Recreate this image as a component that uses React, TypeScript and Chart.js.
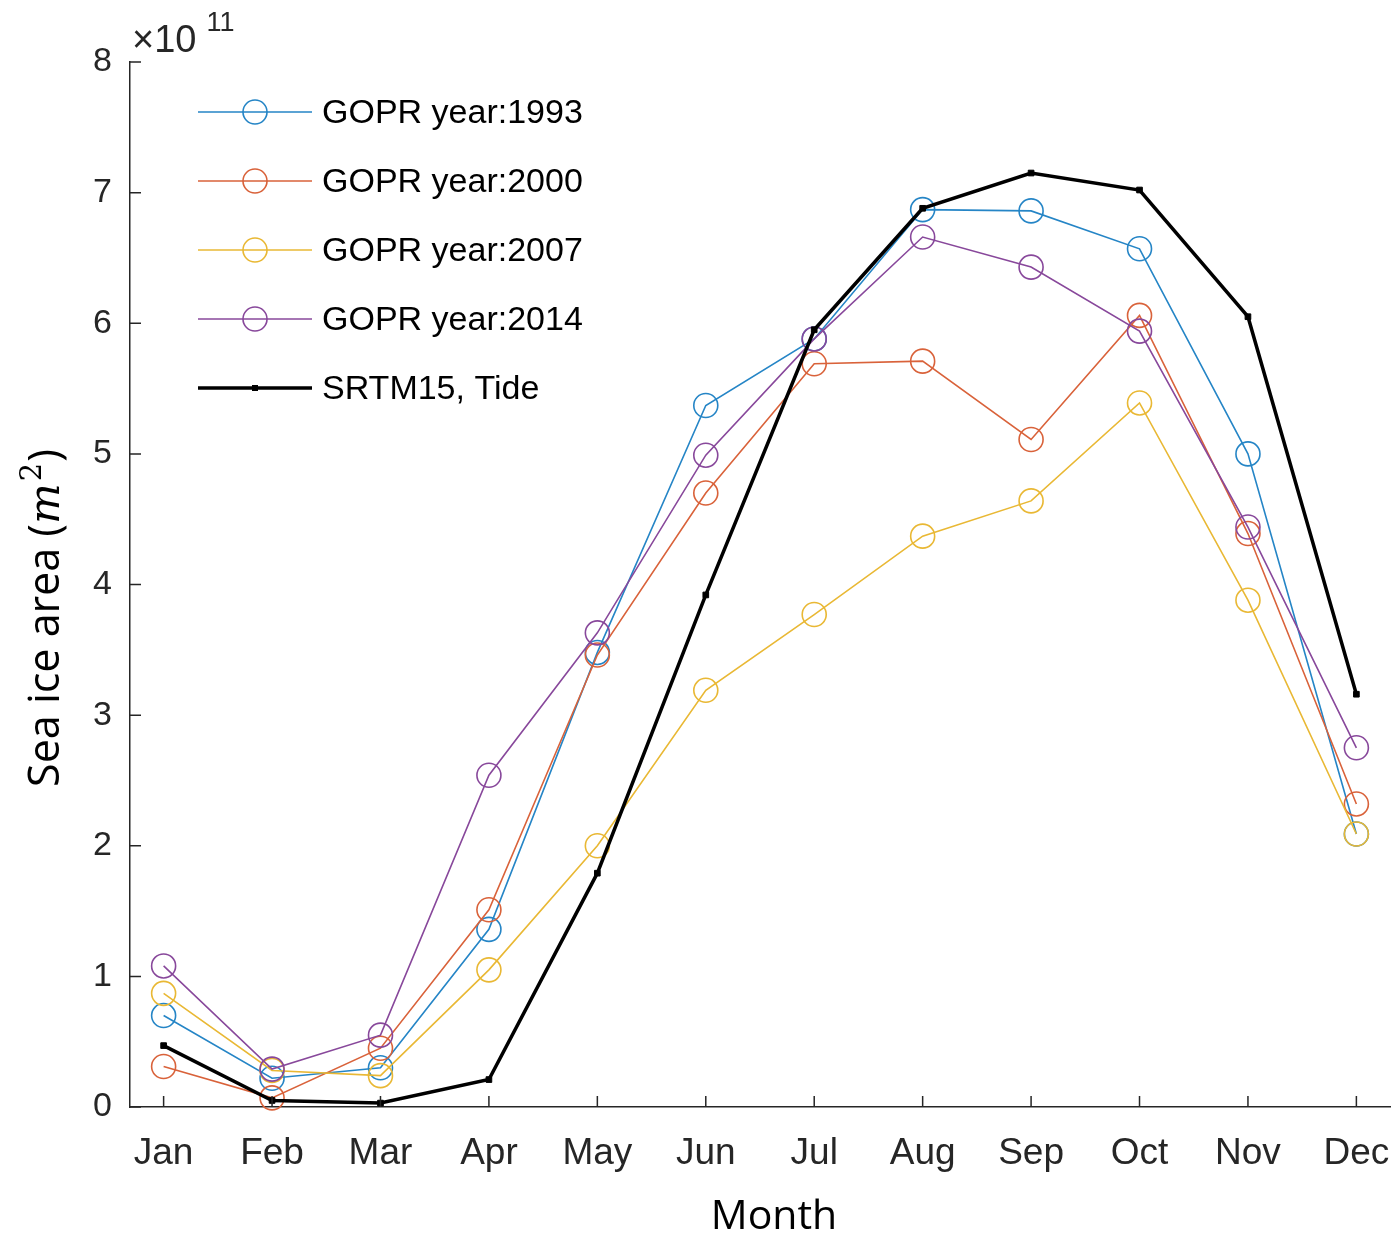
import React, { useEffect, useRef } from "react";
import { Chart, registerables } from "chart.js";

Chart.register(...registerables);

const months = ["Jan", "Feb", "Mar", "Apr", "May", "Jun", "Jul", "Aug", "Sep", "Oct", "Nov", "Dec"];
const yTicks = [0, 1, 2, 3, 4, 5, 6, 7, 8];

const gopr1993 = [0.70, 0.22, 0.30, 1.36, 3.48, 5.37, 5.88, 6.87, 6.86, 6.57, 5.00, 2.09];
const gopr2000 = [0.31, 0.07, 0.45, 1.51, 3.46, 4.70, 5.69, 5.71, 5.11, 6.06, 4.39, 2.32];
const gopr2007 = [0.87, 0.28, 0.24, 1.05, 2.00, 3.19, 3.77, 4.37, 4.64, 5.39, 3.88, 2.09];
const gopr2014 = [1.08, 0.29, 0.55, 2.54, 3.63, 4.99, 5.88, 6.66, 6.43, 5.94, 4.44, 2.75];
const srtm15 = [0.47, 0.05, 0.03, 0.21, 1.79, 3.92, 5.95, 6.88, 7.15, 7.02, 6.05, 3.16];

const seriesNames = ["GOPR year:1993", "GOPR year:2000", "GOPR year:2007", "GOPR year:2014", "SRTM15, Tide"];
const seriesColors = ["#2585c6", "#d9623a", "#e9b834", "#88489b", "#000000"];

const AXIS = "#262626";
const SANS = "'Liberation Sans', Arial, sans-serif";
const TITLE = "'Open Sans', sans-serif";

const toPts = (arr: number[]) => arr.map((v, i) => ({ x: i + 1, y: v }));

const decorPlugin = {
  id: "decor",
  afterDraw(chart: any) {
    const ctx = chart.ctx as CanvasRenderingContext2D;
    const area = chart.chartArea;
    const xs = chart.scales.x;
    const ys = chart.scales.y;
    ctx.save();
    // inward ticks
    ctx.strokeStyle = AXIS;
    ctx.lineWidth = 1.5;
    ctx.beginPath();
    months.forEach((_, i) => {
      const px = xs.getPixelForValue(i + 1);
      ctx.moveTo(px, area.bottom);
      ctx.lineTo(px, area.bottom - 11);
    });
    yTicks.forEach((v) => {
      const py = ys.getPixelForValue(v);
      ctx.moveTo(area.left, py);
      ctx.lineTo(area.left + 11, py);
    });
    ctx.stroke();

    // month tick labels
    ctx.fillStyle = AXIS;
    ctx.font = `37px ${SANS}`;
    ctx.textAlign = "center";
    ctx.textBaseline = "alphabetic";
    months.forEach((m, i) => {
      ctx.fillText(m, xs.getPixelForValue(i + 1), area.bottom + 57);
    });

    // exponent label
    ctx.textAlign = "left";
    ctx.font = `38px ${SANS}`;
    const base = "\u00d710";
    ctx.fillText(base, area.left + 2, 52);
    const bw = ctx.measureText(base).width;
    ctx.font = `27px ${SANS}`;
    ctx.fillText("11", area.left + 2 + bw + 10, 31);

    // x title
    ctx.fillStyle = "#000";
    ctx.font = `41px ${TITLE}`;
    ctx.textAlign = "center";
    ctx.fillText("Month", 774, 1229);

    // y title with italic m and superscript 2
    const parts = [
      { t: "Sea ice area (", f: `43px ${TITLE}`, dy: 0 },
      { t: "m", f: `italic 43px 'DejaVu Serif', 'Liberation Serif', serif`, dy: 0 },
      { t: "2", f: `29px 'DejaVu Serif', 'Liberation Serif', serif`, dy: -18 },
      { t: ")", f: `43px ${TITLE}`, dy: 0 },
    ];
    let total = 0;
    const widths: number[] = [];
    parts.forEach((p) => {
      ctx.font = p.f;
      const w = ctx.measureText(p.t).width + (p.t === "2" ? 3 : 0);
      widths.push(w);
      total += w;
    });
    ctx.translate(59, 618);
    ctx.rotate(-Math.PI / 2);
    ctx.textAlign = "left";
    let cx = -total / 2;
    parts.forEach((p, i) => {
      ctx.font = p.f;
      ctx.fillText(p.t, cx + (p.t === "2" ? 2 : 0), p.dy);
      cx += widths[i];
    });
    ctx.restore();

    // legend
    ctx.save();
    const rows = [112, 181, 250, 319, 388];
    chart.data.datasets.forEach((ds: any, i: number) => {
      const y = rows[i];
      ctx.strokeStyle = ds.borderColor;
      ctx.lineWidth = ds.borderWidth;
      ctx.beginPath();
      ctx.moveTo(198, y);
      ctx.lineTo(312, y);
      ctx.stroke();
      if (ds.pointStyle === "rect") {
        ctx.fillStyle = ds.borderColor;
        ctx.fillRect(255 - 3, y - 3, 6, 6);
      } else {
        ctx.lineWidth = ds.pointBorderWidth;
        ctx.beginPath();
        ctx.arc(255, y, ds.pointRadius, 0, Math.PI * 2);
        ctx.stroke();
      }
      ctx.fillStyle = "#000";
      ctx.font = `34px ${SANS}`;
      ctx.textAlign = "left";
      ctx.textBaseline = "middle";
      ctx.fillText(ds.label, 322, y + 2);
    });
    ctx.restore();
  },
};

export default function App() {
  const ref = useRef<HTMLCanvasElement>(null);
  useEffect(() => {
    document.body.style.margin = "0";
    const all = [gopr1993, gopr2000, gopr2007, gopr2014, srtm15];
    const datasets = all.map((arr, i) => {
      const isBlack = i === 4;
      return {
        label: seriesNames[i],
        data: toPts(arr),
        borderColor: seriesColors[i],
        backgroundColor: "rgba(0,0,0,0)",
        borderWidth: isBlack ? 3.5 : 1.6,
        pointStyle: isBlack ? "rect" : "circle",
        pointRadius: isBlack ? 4 : 12,
        pointBorderWidth: isBlack ? 1 : 1.6,
        pointBackgroundColor: isBlack ? "#000" : "rgba(0,0,0,0)",
        pointBorderColor: seriesColors[i],
        order: 5 - i,
        tension: 0,
        clip: false,
      };
    });
    const chart = new Chart(ref.current as HTMLCanvasElement, {
      type: "line",
      data: { datasets } as any,
      options: {
        animation: false,
        responsive: false,
        events: [],
        layout: { autoPadding: false, padding: { left: 0, top: 62, right: 5, bottom: 0 } },
        plugins: { legend: { display: false }, tooltip: { enabled: false } },
        scales: {
          x: {
            type: "linear",
            min: 0.69,
            max: 12.31,
            afterBuildTicks: (s: any) => {
              s.ticks = months.map((_, i) => ({ value: i + 1 }));
            },
            afterFit: (s: any) => {
              s.height = 127;
              s.paddingLeft = 0;
              s.paddingRight = 0;
            },
            ticks: { display: false },
            grid: { display: false, drawTicks: false },
            border: { display: true, color: AXIS, width: 1.5 },
          },
          y: {
            type: "linear",
            min: 0,
            max: 8,
            afterBuildTicks: (s: any) => {
              s.ticks = yTicks.map((v) => ({ value: v }));
            },
            afterFit: (s: any) => {
              s.width = 130;
              s.paddingTop = 0;
              s.paddingBottom = 0;
            },
            ticks: {
              font: { size: 34, family: SANS },
              color: AXIS,
              padding: 18,
            },
            grid: { display: false, drawTicks: false },
            border: { display: true, color: AXIS, width: 1.5 },
          },
        },
      },
      plugins: [decorPlugin],
    } as any);
    return () => chart.destroy();
  }, []);
  return (
    <div style={{ width: 1395, height: 1234, background: "#fff" }}>
      <canvas ref={ref} width={1395} height={1234} style={{ display: "block" }} />
    </div>
  );
}
